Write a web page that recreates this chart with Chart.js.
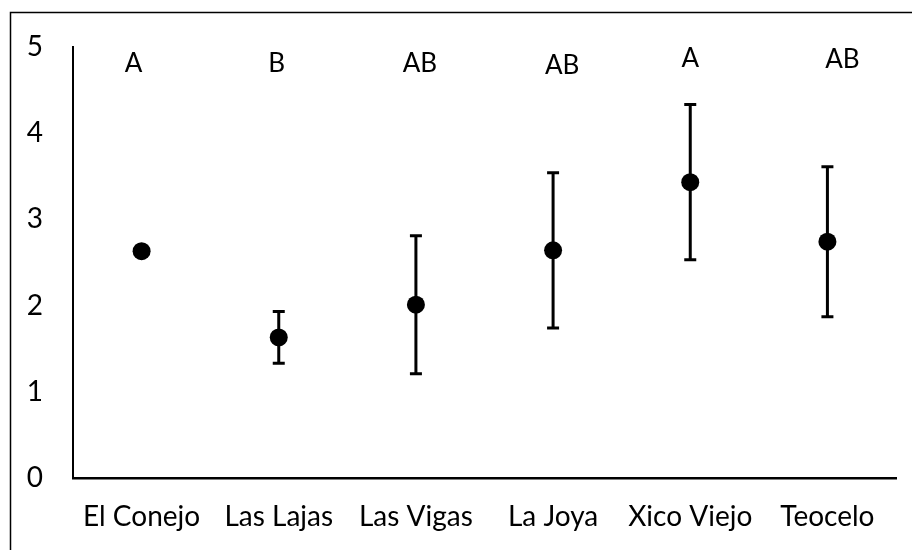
<!DOCTYPE html>
<html>
<head>
<meta charset="utf-8">
<script src="https://cdn.jsdelivr.net/npm/chart.js@4/dist/chart.umd.min.js"></script>
<style>
  html, body { margin: 0; padding: 0; background: #fff; }
  #wrap { width: 912px; height: 550px; }
</style>
</head>
<body>
<div id="wrap"><canvas id="chart" width="912" height="550"></canvas></div>
<script>
// data
const sites = ["El Conejo", "Las Lajas", "Las Vigas", "La Joya", "Xico Viejo", "Teocelo"];
const means = [2.63, 1.63, 2.01, 2.64, 3.43, 2.74];
const errors = [0, 0.30, 0.80, 0.90, 0.90, 0.87];
const groups = ["A", "B", "AB", "AB", "A", "AB"];
const yTicks = [0, 1, 2, 3, 4, 5];

const FONT = "Lato, 'Open Sans', sans-serif";

// small nudges for the group letters, like the text boxes in the original
const letterShift = [-8, -2, 4, 9, 0, 15];
const letterLevel = [4.8, 4.8, 4.8, 4.78, 4.86, 4.85];

// frame + error bars + letters
const extras = {
  id: "extras",
  beforeDraw(c) {
    const ctx = c.ctx;
    ctx.save();
    ctx.strokeStyle = "#000";
    ctx.lineWidth = 1.5;
    ctx.beginPath();
    ctx.moveTo(10.5, 550);
    ctx.lineTo(10.5, 12.5);
    ctx.lineTo(912, 12.5);
    ctx.stroke();
    ctx.restore();
  },
  afterDatasetsDraw(c) {
    const ctx = c.ctx;
    const xs = c.scales.x, ys = c.scales.y;
    ctx.save();
    ctx.strokeStyle = "#000";
    ctx.lineWidth = 3;
    means.forEach((m, i) => {
      if (!errors[i]) return;
      const x = xs.getPixelForValue(i);
      const top = ys.getPixelForValue(m + errors[i]);
      const bot = ys.getPixelForValue(m - errors[i]);
      ctx.beginPath();
      ctx.moveTo(x, top); ctx.lineTo(x, bot);
      ctx.moveTo(x - 6, top); ctx.lineTo(x + 6, top);
      ctx.moveTo(x - 6, bot); ctx.lineTo(x + 6, bot);
      ctx.stroke();
    });
    ctx.fillStyle = "#000";
    ctx.font = "26px " + FONT;
    ctx.textAlign = "center";
    ctx.textBaseline = "middle";
    groups.forEach((g, i) => {
      ctx.fillText(g, xs.getPixelForValue(i) + letterShift[i], ys.getPixelForValue(letterLevel[i]));
    });
    ctx.restore();
  }
};

new Chart(document.getElementById("chart"), {
  type: "line",
  data: {
    labels: sites,
    datasets: [{
      data: means,
      showLine: false,
      pointRadius: 9,
      pointHoverRadius: 9,
      pointBackgroundColor: "#000",
      pointBorderColor: "#000",
      pointBorderWidth: 0
    }]
  },
  options: {
    responsive: false,
    animation: false,
    events: [],
    layout: { padding: { top: 44, right: 16, left: 0, bottom: 0 } },
    plugins: { legend: { display: false }, tooltip: { enabled: false } },
    scales: {
      x: {
        offset: true,
        grid: { display: false, drawTicks: false, tickLength: 0 },
        border: { display: true, color: "#000", width: 2.5 },
        ticks: { color: "#000", font: { family: FONT, size: 28 }, padding: 22, maxRotation: 0, autoSkip: false },
        afterFit(s) { s.height = 72; }
      },
      y: {
        min: 0,
        max: 5,
        grid: { display: false, drawTicks: false, tickLength: 0 },
        border: { display: true, color: "#000", width: 2 },
        afterBuildTicks(s) { s.ticks = yTicks.map(v => ({ value: v })); },
        ticks: { color: "#000", font: { family: FONT, size: 28 }, padding: 30 },
        afterFit(s) { s.width = 73; }
      }
    }
  },
  plugins: [extras]
});
</script>
</body>
</html>
